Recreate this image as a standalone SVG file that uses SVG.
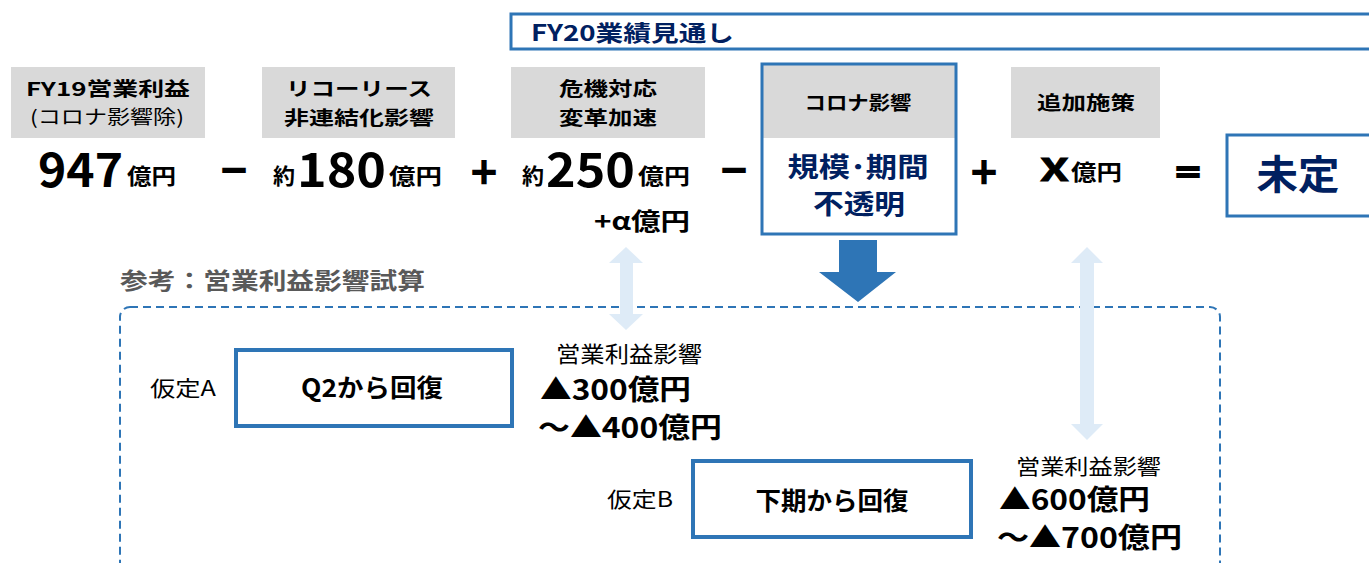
<svg xmlns="http://www.w3.org/2000/svg" width="1369" height="563" viewBox="0 0 1369 563">
<style>
text{font-family:"Noto Sans CJK JP","Noto Sans",sans-serif;fill:#000}
.b{font-weight:bold}
.c{text-anchor:middle}
.op{font-weight:bold;text-anchor:middle;stroke:#000;stroke-width:2.2}
.navy{fill:#002060}
.gray{fill:#D9D9D9}
.blue{fill:none;stroke:#2E75B6;stroke-width:3}
.thick{fill:none;stroke:#2E75B6;stroke-width:4}
.lb{fill:#DEEBF7}
</style>
<rect width="1369" height="563" fill="#fff"/>
<g id="title">
<rect class="blue" x="511" y="14" width="870" height="35"/>
<text class="b navy" x="531" y="41" font-size="22" textLength="203" lengthAdjust="spacingAndGlyphs">FY20業績見通し</text>
</g>
<g id="n-fy19">
<rect class="gray" x="11" y="67" width="194" height="71"/>
<text class="b c" x="108" y="96" font-size="19" textLength="164" lengthAdjust="spacingAndGlyphs">FY19営業利益</text>
<text class="c" x="107" y="124" font-size="19" textLength="154" lengthAdjust="spacingAndGlyphs">(コロナ影響除)</text>
<text class="b" x="38" y="187" font-size="47" textLength="85" lengthAdjust="spacingAndGlyphs">947</text>
<text class="b" x="127" y="184" font-size="22" textLength="49" lengthAdjust="spacingAndGlyphs">億円</text>
</g>
<g id="op1"><text class="op" x="234" y="181" font-size="30">－</text></g>
<g id="n-ricoh">
<rect class="gray" x="262" y="67" width="193" height="71"/>
<text class="b c" x="359" y="96" font-size="19" textLength="146" lengthAdjust="spacingAndGlyphs">リコーリース</text>
<text class="b c" x="359" y="125" font-size="19" textLength="150" lengthAdjust="spacingAndGlyphs">非連結化影響</text>
<text class="b" x="273" y="184" font-size="22" textLength="22" lengthAdjust="spacingAndGlyphs">約</text>
<text class="b" x="297" y="187" font-size="47" textLength="89" lengthAdjust="spacingAndGlyphs">180</text>
<text class="b" x="389" y="184" font-size="22" textLength="53" lengthAdjust="spacingAndGlyphs">億円</text>
</g>
<g id="op2"><text class="op" x="484" y="183" font-size="30">＋</text></g>
<g id="n-crisis">
<rect class="gray" x="511" y="67" width="194" height="71"/>
<text class="b c" x="608" y="96" font-size="19" textLength="98" lengthAdjust="spacingAndGlyphs">危機対応</text>
<text class="b c" x="608" y="125" font-size="19" textLength="98" lengthAdjust="spacingAndGlyphs">変革加速</text>
<text class="b" x="522" y="184" font-size="22" textLength="22" lengthAdjust="spacingAndGlyphs">約</text>
<text class="b" x="546" y="187" font-size="47" textLength="89" lengthAdjust="spacingAndGlyphs">250</text>
<text class="b" x="638" y="184" font-size="22" textLength="52" lengthAdjust="spacingAndGlyphs">億円</text>
<text class="b" x="594" y="230" font-size="24" textLength="96" lengthAdjust="spacingAndGlyphs">+α億円</text>
</g>
<g id="op3"><text class="op" x="734" y="181" font-size="30">－</text></g>
<g id="n-corona">
<rect class="gray" x="763" y="65" width="192" height="73"/>
<rect class="blue" x="762" y="64" width="194" height="170"/>
<text class="b c" x="858" y="110" font-size="19" textLength="107" lengthAdjust="spacingAndGlyphs">コロナ影響</text>
<text class="b c navy" x="858" y="177" font-size="27" textLength="141" lengthAdjust="spacingAndGlyphs">規模･期間</text>
<text class="b c navy" x="859" y="214" font-size="27" textLength="92" lengthAdjust="spacingAndGlyphs">不透明</text>
</g>
<g id="op4"><text class="op" x="984" y="183" font-size="30">＋</text></g>
<g id="n-add">
<rect class="gray" x="1011" y="67" width="149" height="71"/>
<text class="b c" x="1086" y="110" font-size="19" textLength="98" lengthAdjust="spacingAndGlyphs">追加施策</text>
<text class="b" x="1040" y="181" font-size="31" textLength="29" lengthAdjust="spacingAndGlyphs" style="stroke:#000;stroke-width:0.8">X</text>
<text class="b" x="1071" y="180" font-size="22" textLength="51" lengthAdjust="spacingAndGlyphs">億円</text>
</g>
<g id="op5"><text class="op" x="1188" y="183" font-size="30">＝</text></g>
<g id="n-result">
<rect class="blue" x="1227" y="135" width="160" height="81"/>
<text class="b c navy" x="1298" y="189" font-size="40" textLength="83" lengthAdjust="spacingAndGlyphs">未定</text>
</g>
<g id="ref-label">
<text class="b" x="120" y="289" font-size="23" style="fill:#595959" textLength="305" lengthAdjust="spacingAndGlyphs">参考：営業利益影響試算</text>
</g>
<g id="ref-frame">
<rect x="120" y="307" width="1100" height="290" rx="10" fill="none" stroke="#2E75B6" stroke-width="2" stroke-dasharray="8 5"/>
</g>
<g id="connectors">
<polygon fill="#2E75B6" points="839,240 877,240 877,272 896,272 858,302 819,272 839,272"/>
<polygon class="lb" points="626,247 643,263 633,263 633,314 643,314 626,330 609,314 620,314 620,263 609,263"/>
<polygon class="lb" points="1087,247 1103,263 1094,263 1094,424 1103,424 1087,440 1071,424 1080,424 1080,263 1071,263"/>
</g>
<g id="n-caseA">
<text x="150" y="396" font-size="21" textLength="66" lengthAdjust="spacingAndGlyphs">仮定A</text>
<rect class="thick" x="236" y="350" width="276" height="76"/>
<text class="b c" x="372" y="397" font-size="25" textLength="142" lengthAdjust="spacingAndGlyphs">Q2から回復</text>
<text x="556" y="362" font-size="22" textLength="146" lengthAdjust="spacingAndGlyphs">営業利益影響</text>
<text class="b" x="540" y="400" font-size="28" textLength="151" lengthAdjust="spacingAndGlyphs">▲300億円</text>
<text class="b" x="538" y="438" font-size="28" textLength="184" lengthAdjust="spacingAndGlyphs">～▲400億円</text>
</g>
<g id="n-caseB">
<text x="607" y="507" font-size="21" textLength="66" lengthAdjust="spacingAndGlyphs">仮定B</text>
<rect class="thick" x="693" y="461" width="278" height="76"/>
<text class="b c" x="832" y="510" font-size="25" textLength="153" lengthAdjust="spacingAndGlyphs">下期から回復</text>
<text x="1016" y="474" font-size="21" textLength="145" lengthAdjust="spacingAndGlyphs">営業利益影響</text>
<text class="b" x="999" y="510" font-size="28" textLength="151" lengthAdjust="spacingAndGlyphs">▲600億円</text>
<text class="b" x="997" y="548" font-size="28" textLength="185" lengthAdjust="spacingAndGlyphs">～▲700億円</text>
</g>
</svg>
